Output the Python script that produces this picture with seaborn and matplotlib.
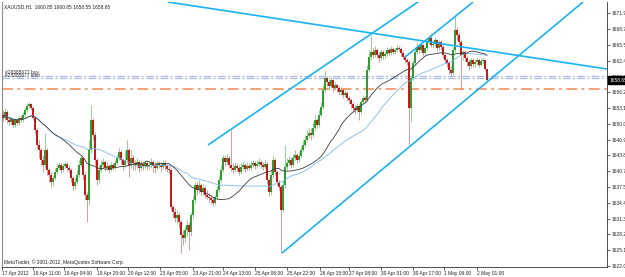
import numpy as np
import pandas as pd
import matplotlib
matplotlib.use("Agg")
import matplotlib.pyplot as plt
import matplotlib.transforms as mtransforms
import seaborn as sns

# ---------------- data (XAUUSD H1) ----------------
first_open = 1651.8
closes = [
    1651.2,1652.4,1650.8,1650.4,1651.0,1649.8,1650.8,1650.2,1651.2,1650.8,
    1651.8,1652.8,1653.6,1653.9,1653.2,1651.2,1648.8,1645.9,1644.9,1642.9,
    1641.9,1644.9,1640.9,1639.9,1638.6,1639.4,1640.5,1641.3,1641.9,1640.9,
    1641.7,1642.1,1641.3,1640.9,1639.4,1637.8,1638.6,1639.9,1641.9,1643.3,
    1639.9,1636.0,1635.0,1644.9,1650.8,1647.8,1642.9,1639.0,1640.9,1641.9,
    1642.5,1641.3,1641.7,1640.9,1641.9,1641.3,1642.3,1643.3,1644.5,1642.9,
    1641.9,1642.9,1644.9,1641.9,1643.3,1642.3,1641.9,1642.5,1641.3,1642.1,
    1641.7,1642.3,1641.5,1641.9,1642.5,1641.7,1641.3,1642.1,1641.9,1641.5,
    1642.3,1641.7,1641.1,1640.9,1633.6,1632.7,1631.5,1632.1,1630.7,1628.1,
    1627.5,1629.1,1630.1,1628.7,1632.1,1635.0,1638.0,1637.0,1638.0,1636.6,
    1637.4,1636.0,1635.6,1635.4,1635.0,1634.4,1635.6,1637.0,1639.0,1640.9,
    1643.3,1642.5,1643.3,1641.9,1641.3,1640.9,1641.7,1641.3,1640.5,1641.5,
    1641.9,1641.1,1641.7,1641.3,1641.9,1642.3,1641.7,1642.1,1642.5,1641.9,
    1641.5,1642.1,1639.0,1636.6,1639.9,1642.9,1640.5,1638.6,1637.6,1633.0,
    1638.0,1641.5,1642.3,1642.9,1641.9,1643.3,1643.9,1642.9,1643.7,1644.9,
    1645.9,1646.9,1647.6,1648.2,1647.8,1649.2,1650.8,1649.8,1651.8,1653.4,
    1656.7,1659.1,1658.3,1657.5,1658.7,1657.1,1657.7,1657.1,1656.3,1656.7,
    1655.7,1656.1,1655.1,1654.7,1653.9,1653.2,1652.8,1653.6,1652.4,1654.3,
    1655.1,1654.7,1660.7,1663.2,1664.2,1663.6,1664.6,1663.6,1663.0,1664.2,
    1663.4,1663.8,1664.6,1664.0,1664.8,1664.2,1664.6,1665.0,1664.8,1664.0,
    1663.2,1662.6,1662.2,1653.2,1659.1,1662.0,1664.2,1665.2,1664.6,1665.6,
    1664.0,1665.0,1666.2,1667.0,1665.6,1665.8,1666.6,1665.0,1666.2,1665.2,
    1663.6,1662.6,1662.0,1660.7,1660.1,1664.6,1668.5,1667.6,1666.2,1663.6,
    1664.2,1663.0,1662.2,1661.4,1662.6,1661.8,1662.2,1662.6,1661.6,1662.4,
    1662.6,1660.85,1658.65,
]
highs = [
    1652.8,1653.2,1652.8,1651.4,1651.4,1651.2,1651.2,1651.2,1651.6,1651.8,
    1652.4,1653.4,1654.1,1654.3,1654.1,1653.6,1651.6,1649.2,1646.9,1645.3,
    1643.9,1648.2,1645.3,1641.3,1640.5,1639.9,1641.3,1642.3,1642.5,1642.3,
    1642.3,1642.7,1642.5,1641.9,1641.3,1639.8,1639.4,1640.9,1642.9,1643.9,
    1643.5,1640.5,1636.6,1646.9,1653.8,1651.2,1648.4,1643.3,1641.9,1642.9,
    1643.3,1642.9,1642.5,1642.1,1642.5,1642.3,1642.9,1643.9,1645.3,1644.9,
    1643.3,1644.9,1646.9,1645.3,1644.9,1643.9,1642.9,1643.3,1642.9,1642.9,
    1642.5,1642.9,1642.7,1642.5,1643.3,1642.9,1642.3,1642.9,1642.7,1642.5,
    1642.9,1642.9,1642.1,1641.7,1641.3,1634.0,1633.4,1633.0,1632.7,1631.1,
    1629.1,1629.9,1631.1,1630.7,1632.7,1635.8,1638.6,1638.6,1639.0,1638.4,
    1638.2,1637.8,1637.0,1636.4,1636.0,1635.6,1636.0,1637.8,1639.8,1641.9,
    1643.9,1643.9,1644.1,1643.7,1648.8,1642.3,1642.5,1642.3,1641.9,1642.3,
    1642.7,1642.3,1642.5,1642.3,1642.7,1642.9,1642.7,1642.9,1643.3,1642.9,
    1642.5,1642.9,1642.5,1639.4,1640.9,1643.7,1643.3,1640.9,1639.0,1638.0,
    1639.0,1645.9,1643.3,1643.7,1643.5,1644.1,1644.9,1644.3,1644.5,1645.7,
    1646.9,1647.8,1648.8,1649.2,1649.2,1650.4,1651.8,1651.2,1652.8,1654.3,
    1657.7,1660.7,1659.5,1658.7,1659.3,1658.9,1658.3,1657.9,1657.5,1657.3,
    1657.1,1656.7,1656.5,1655.5,1655.1,1654.3,1653.8,1654.1,1653.9,1654.7,
    1655.7,1655.5,1661.6,1664.6,1667.6,1665.0,1665.4,1665.0,1664.2,1664.8,
    1664.6,1664.4,1665.2,1665.0,1665.4,1665.2,1665.0,1665.6,1665.4,1665.2,
    1664.4,1663.6,1663.0,1662.6,1659.7,1662.6,1664.8,1666.0,1665.8,1666.2,
    1665.8,1665.4,1666.6,1667.4,1668.0,1666.6,1667.2,1666.8,1666.6,1666.6,
    1665.6,1663.8,1663.0,1662.4,1661.4,1665.2,1671.5,1669.1,1668.2,1666.6,
    1664.6,1664.6,1663.4,1662.6,1663.0,1663.0,1662.8,1663.2,1663.0,1663.0,
    1663.2,1662.8,1660.85,
]
lows = [
    1650.6,1650.8,1650.2,1649.8,1649.8,1649.4,1649.4,1649.8,1649.8,1650.4,
    1650.4,1651.4,1652.4,1653.2,1652.8,1650.8,1648.2,1645.3,1643.3,1641.9,
    1640.5,1641.3,1639.9,1638.6,1637.6,1637.8,1639.0,1640.1,1640.9,1640.3,
    1640.5,1641.3,1640.7,1640.3,1638.6,1637.0,1637.2,1638.2,1639.6,1641.5,
    1639.0,1635.0,1630.7,1634.0,1644.3,1646.9,1641.9,1638.0,1638.4,1640.5,
    1641.3,1640.7,1640.9,1640.3,1640.7,1640.9,1641.1,1641.9,1642.9,1642.1,
    1640.9,1641.5,1642.5,1639.6,1641.3,1640.9,1640.9,1641.3,1640.5,1640.9,
    1640.9,1641.3,1640.9,1641.1,1641.3,1640.5,1640.3,1640.9,1641.3,1640.7,
    1641.1,1640.9,1640.5,1640.1,1633.0,1631.5,1630.7,1630.3,1629.5,1624.6,
    1626.1,1626.7,1627.9,1625.2,1627.9,1631.5,1634.4,1636.0,1636.4,1635.8,
    1636.0,1635.4,1635.2,1634.6,1634.2,1633.8,1634.0,1635.2,1636.6,1638.6,
    1640.5,1641.7,1641.9,1641.3,1640.7,1640.3,1640.5,1640.7,1639.9,1640.1,
    1640.9,1640.5,1640.7,1640.9,1640.9,1641.5,1641.1,1641.3,1641.7,1641.3,
    1640.9,1641.1,1638.2,1635.8,1636.0,1639.4,1639.9,1638.0,1637.0,1624.6,
    1632.7,1637.4,1640.9,1641.7,1641.3,1641.5,1642.9,1642.3,1642.5,1643.3,
    1644.5,1645.5,1646.5,1647.2,1646.9,1647.4,1648.8,1649.2,1649.4,1651.4,
    1653.0,1656.3,1657.5,1656.7,1657.1,1656.3,1656.7,1656.3,1655.7,1655.7,
    1655.1,1655.3,1654.5,1653.9,1653.2,1652.4,1652.0,1652.4,1650.8,1652.0,
    1653.9,1654.1,1654.3,1660.3,1662.6,1663.0,1663.2,1663.0,1662.2,1662.6,
    1662.8,1663.0,1663.4,1663.6,1663.6,1663.8,1663.8,1664.2,1664.4,1663.4,
    1662.8,1662.0,1661.6,1645.9,1650.4,1658.7,1661.6,1663.8,1664.0,1664.2,
    1663.4,1663.6,1664.6,1665.8,1665.2,1665.0,1665.4,1664.4,1664.6,1664.6,
    1663.0,1662.0,1661.3,1659.9,1659.3,1659.7,1664.2,1666.6,1665.6,1656.7,
    1662.6,1662.4,1661.4,1660.7,1661.1,1661.3,1661.3,1661.6,1661.3,1661.4,
    1661.8,1660.5,1658.55,
]

xtick_pos = [-0.5, 15, 30.5, 47, 62.5, 78.5, 95, 110, 126, 142, 158.5, 173, 189, 205, 220.5, 237]
xtick_labels = ["17 Apr 2012", "18 Apr 11:00", "19 Apr 04:00", "19 Apr 20:00", "20 Apr 12:00",
                "23 Apr 05:00", "23 Apr 21:00", "24 Apr 13:00", "25 Apr 06:00", "25 Apr 22:00",
                "26 Apr 15:00", "27 Apr 08:00", "30 Apr 01:00", "30 Apr 17:00", "1 May 09:00",
                "2 May 01:00"]
ytick_vals = [1671.90, 1668.70, 1665.55, 1662.45, 1659.35, 1656.25, 1653.15, 1650.00, 1646.90,
              1643.80, 1640.70, 1637.55, 1634.45, 1631.35, 1628.25, 1625.15, 1622.00]

# trend lines: (bar index, price) pairs
trend_x = [[82.5, 302.0], [102.5, 207.5], [201.0, 235.0], [139.5, 290.0]]
trend_y = [[1674.07, 1660.85], [1645.87, 1674.07], [1663.2, 1674.07], [1624.57, 1674.07]]

order_levels = [1659.5, 1659.0]
order_labels = ["#28385677 buy", "#28385677 limit"]
stop_level = 1657.0
last_price = 1658.65
title_text = "XAUUSD,H1  1660.85 1660.85 1658.55 1658.65"
copyright_text = "MetaTrader, \u00a9 2001-2012, MetaQuotes Software Corp."

# ---------------- figure ----------------
sns.set_style("white")
plt.rcParams['font.family'] = ['Liberation Sans', 'DejaVu Sans']
FS = 3.5

fig = plt.figure(figsize=(6.25, 2.77), dpi=100)
fig.patch.set_facecolor("white")
ax = fig.add_axes([2 / 625, 10 / 277, 605 / 625, 265 / 277])
ax.set_facecolor("white")

n = len(closes)
idx = np.arange(n)
c = np.array(closes)
o = np.array([first_open] + closes[:-1])
h = np.maximum(np.array(highs), np.maximum(o, c))
l = np.minimum(np.array(lows), np.minimum(o, c))
up = c >= o

bull_body, bear_body = "#2f9e2f", "#c41a1a"
bull_wick, bear_wick = "#86c886", "#cf8c8c"

ax.vlines(idx[up], l[up], h[up], colors=bull_wick, lw=0.6, zorder=2)
ax.vlines(idx[~up], l[~up], h[~up], colors=bear_wick, lw=0.6, zorder=2)
body_lo = np.minimum(o, c)
body_h = np.maximum(np.abs(c - o), 0.08)
ax.bar(idx[up], body_h[up], bottom=body_lo[up], width=0.8, color=bull_body, lw=0, zorder=3)
ax.bar(idx[~up], body_h[~up], bottom=body_lo[~up], width=0.8, color=bear_body, lw=0, zorder=3)

df = pd.DataFrame({"bar": idx, "close": c})
df["ma_fast"] = df["close"].rolling(30, min_periods=1).mean()
df["ma_slow"] = df["close"].rolling(50, min_periods=1).mean()
sns.lineplot(data=df, x="bar", y="ma_slow", color="#80b8ea", lw=0.6, ax=ax, zorder=4)
sns.lineplot(data=df, x="bar", y="ma_fast", color="#3c3c3c", lw=0.6, ax=ax, zorder=4)

for tx, ty in zip(trend_x, trend_y):
    ax.plot(tx, ty, color="#1ab2f2", lw=1.2, zorder=5, solid_capstyle="butt")

for lev in order_levels:
    ax.axhline(lev, color="#a9b9ea", lw=0.9, ls=(0, (6, 2, 1.5, 2)), zorder=1)
ax.axhline(stop_level, color="#f59a6c", lw=1.3, ls=(0, (6, 2.5, 1.5, 2.5)), zorder=1)
ax.text(1.0, order_levels[0] + 0.25, order_labels[0], fontsize=FS, color="#333333",
        va="bottom", ha="left", zorder=6)
ax.text(1.0, order_levels[1] + 0.0, order_labels[1], fontsize=FS, color="#333333",
        va="bottom", ha="left", zorder=6)

ax.set_xlim(-0.5, 302)
ax.set_ylim(1621.81, 1674.07)

ax.set_xticks(xtick_pos)
ax.set_xticklabels(xtick_labels, ha="left")
ax.set_yticks(ytick_vals)
ax.set_yticklabels([f"{v:.2f}" for v in ytick_vals])
ax.yaxis.tick_right()
ax.tick_params(axis="y", right=True, left=False, labelright=True, labelleft=False,
               length=2, width=0.5, labelsize=FS, pad=1, colors="#222222")
ax.tick_params(axis="x", bottom=True, length=2, width=0.5, labelsize=FS, pad=1, colors="#222222")
ax.set_xlabel("")
ax.set_ylabel("")

for side in ["right", "bottom"]:
    ax.spines[side].set_color("#333333")
    ax.spines[side].set_linewidth(0.6)
ax.spines["left"].set_color("#8c8c8c")
ax.spines["left"].set_linewidth(0.8)
ax.spines["top"].set_visible(False)

ax.text(0.004, 0.992, title_text, transform=ax.transAxes, fontsize=FS, va="top", ha="left",
        color="#222222")
ax.text(0.004, 0.008, copyright_text, transform=ax.transAxes, fontsize=FS, va="bottom",
        ha="left", color="#222222")

trans = mtransforms.blended_transform_factory(ax.transAxes, ax.transData)
ax.text(1.004, last_price, f"{last_price:.2f}", transform=trans, fontsize=FS, color="white",
        va="center", ha="left", clip_on=False, zorder=10,
        bbox=dict(boxstyle="square,pad=0.35", fc="black", ec="black"))

fig.savefig("out.png", dpi=100)
